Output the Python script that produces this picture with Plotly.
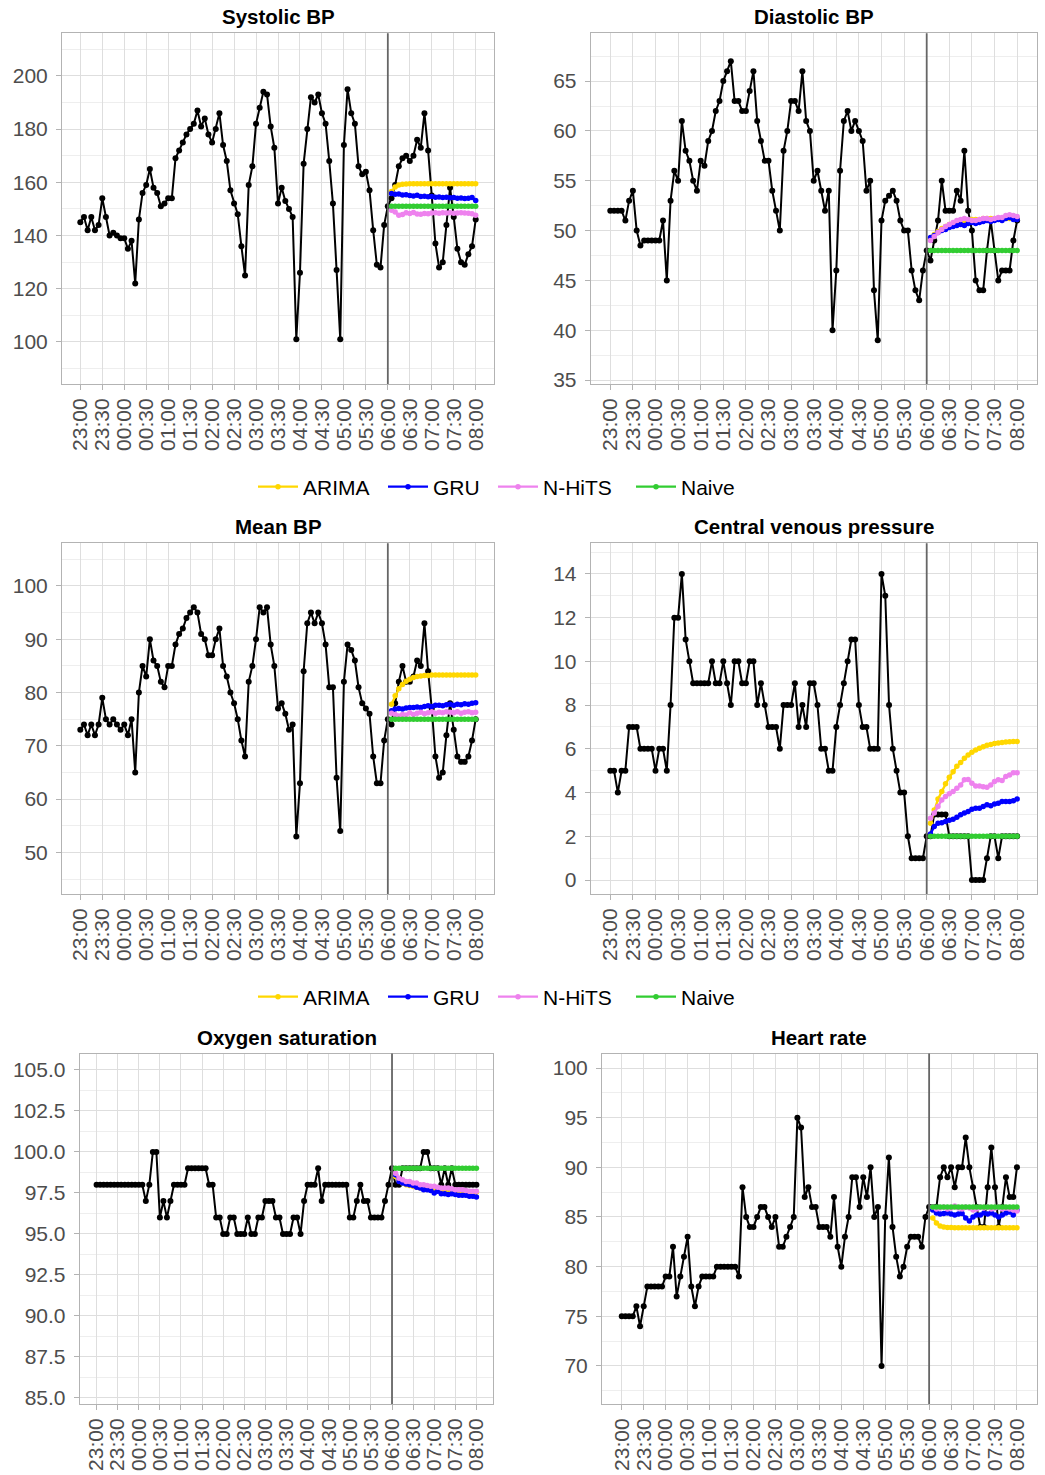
import pandas as pd
import plotly.graph_objects as go

# ---- time grid: 5-minute samples 23:00 -> 08:00; forecasts cover 06:05 -> 08:00 ----
start = pd.Timestamp("2024-03-01 23:00")
obs_time = pd.date_range(start, periods=109, freq="5min")
cut_time = obs_time[84]          # 06:00, forecast origin
fc_time = obs_time[85:]          # 24 forecast steps

# ---- observed vitals (109 samples each) ----
sbp_obs = [145, 147, 142, 147, 142, 144, 154, 147, 140, 141, 140, 139, 139, 135, 138, 122,
           146, 156, 159, 165, 158, 156, 151, 152, 154, 154, 169, 172, 175, 178, 180, 182,
           187, 181, 184, 178, 175, 180, 186, 174, 168, 157, 152, 148, 136, 125, 159, 166,
           182, 188, 194, 193, 181, 173, 152, 158, 153, 150, 147, 101, 126, 167, 180, 192,
           190, 193, 186, 182, 168, 152, 127, 101, 174, 195, 186, 182, 166, 163, 164, 157,
           142, 129, 128, 144, 151,
           154, 159, 166, 169, 170, 168, 170, 176, 173, 186, 172, 155, 137, 128, 130, 144,
           158, 147, 135, 130, 129, 133, 136, 146]
dbp_obs = [52, 52, 52, 52, 51, 53, 54, 50, 48.5, 49, 49, 49, 49, 49, 51, 45, 53, 56, 55, 61,
           58, 57, 55, 54, 57, 56.5, 59, 60, 62, 63, 65, 66, 67, 63, 63, 62, 62, 64, 66, 61,
           59, 57, 57, 54, 52, 50, 58, 60, 63, 63, 62, 66, 61, 60, 55, 56, 54, 52, 54, 40,
           46, 56, 61, 62, 60, 61, 60, 59, 54, 55, 44, 39, 51, 53, 53.5, 54, 53, 51, 50, 50,
           46, 44, 43, 46, 48,
           47, 49, 51, 55, 52, 52, 52, 54, 53, 58, 52, 50, 45, 44, 44, 48, 51, 48, 45, 46,
           46, 46, 49, 51]
map_obs = [73, 74, 72, 74, 72, 74, 79, 75, 74, 75, 74, 73, 74, 72, 75, 65, 80, 85, 83, 90,
           86, 85, 82, 81, 85, 85, 89, 91, 92, 94, 95, 96, 95, 91, 90, 87, 87, 90, 92, 85,
           83, 80, 78, 75, 71, 68, 82, 85, 90, 96, 95, 96, 89, 85, 77, 78, 76, 73, 74, 53,
           63, 84, 93, 95, 93, 95, 93, 89, 81, 81, 64, 54, 82, 89, 88, 86, 81, 78, 77, 76,
           68, 63, 63, 71, 75,
           74, 78, 82, 85, 82, 82, 83, 86, 85, 93, 84, 77, 68, 64, 65, 72, 78, 73, 68, 67,
           67, 68, 71, 75]
cvp_obs = [5, 5, 4, 5, 5, 7, 7, 7, 6, 6, 6, 6, 5, 6, 6, 5, 8, 12, 12, 14, 11, 10, 9, 9, 9,
           9, 9, 10, 9, 9, 10, 9, 8, 10, 10, 9, 9, 10, 10, 8, 9, 8, 7, 7, 7, 6, 8, 8, 8, 9,
           7, 8, 7, 9, 9, 8, 6, 6, 5, 5, 7, 8, 9, 10, 11, 11, 8, 7, 7, 6, 6, 6, 14, 13, 8,
           6, 5, 4, 4, 2, 1, 1, 1, 1, 2,
           2, 3, 3, 3, 3, 2, 2, 2, 2, 2, 2, 0, 0, 0, 0, 1, 2, 2, 1, 2, 2, 2, 2, 2]
spo2_obs = [98, 98, 98, 98, 98, 98, 98, 98, 98, 98, 98, 98, 98, 98, 97, 98, 100, 100, 96, 97,
            96, 97, 98, 98, 98, 98, 99, 99, 99, 99, 99, 99, 98, 98, 96, 96, 95, 95, 96, 96,
            95, 95, 95, 96, 95, 95, 96, 96, 97, 97, 97, 96, 96, 95, 95, 95, 96, 96, 95, 97,
            98, 98, 98, 99, 97, 98, 98, 98, 98, 98, 98, 98, 96, 96, 97, 98, 97, 97, 96, 96,
            96, 96, 97, 98, 99,
            98, 98, 99, 99, 99, 99, 99, 99, 100, 100, 99, 99, 99, 98, 99, 98, 99, 98, 98, 98,
            98, 98, 98, 98]
hr_obs = [75, 75, 75, 75, 76, 74, 76, 78, 78, 78, 78, 78, 79, 79, 82, 77, 79, 81, 83, 78,
          76, 78, 79, 79, 79, 79, 80, 80, 80, 80, 80, 80, 79, 88, 85, 84, 84, 85, 86, 86,
          85, 84, 85, 82, 82, 83, 84, 85, 95, 94, 87, 88, 86, 86, 84, 84, 84, 83, 87, 82,
          80, 83, 85, 89, 89, 86, 89, 87, 90, 85, 86, 70, 85, 91, 84, 81, 79, 80, 82, 83,
          83, 83, 82, 85, 86,
          86, 86, 89, 90, 89, 90, 88, 90, 90, 93, 90, 88, 86, 84, 84, 88, 92, 88, 84, 86,
          89, 87, 87, 90]

# ---- model forecasts (24 steps each) ----
sbp_arima = [156.5, 158.2, 159.0, 159.3, 159.4, 159.5, 159.5, 159.5, 159.5, 159.5, 159.5, 159.5,
             159.5, 159.5, 159.5, 159.5, 159.5, 159.5, 159.5, 159.5, 159.5, 159.5, 159.5, 159.5]
sbp_gru = [155.8, 155.5, 155.6, 155.2, 155.3, 155.0, 154.9, 155.1, 154.7, 154.8, 154.6, 154.7,
           154.4, 154.5, 154.3, 154.4, 154.2, 154.3, 154.0, 154.1, 153.9, 154.0, 154.3, 153.2]
sbp_nhits = [149.5, 148.8, 147.6, 147.9, 148.6, 148.3, 148.7, 148.1, 148.0, 148.3, 148.2, 148.5,
             148.6, 148.4, 148.6, 148.5, 148.6, 148.4, 148.5, 148.6, 148.5, 148.4, 148.2, 147.6]
sbp_naive = [151] * 24

dbp_arima = [49.2, 49.6, 49.9, 50.2, 50.4, 50.6, 50.7, 50.8, 50.9, 51.0, 51.0, 51.1,
             51.1, 51.1, 51.2, 51.2, 51.2, 51.2, 51.2, 51.2, 51.2, 51.2, 51.2, 51.2]
dbp_gru = [49.3, 49.5, 49.8, 50.0, 50.1, 50.3, 50.4, 50.5, 50.6, 50.5, 50.7, 50.8,
           50.7, 50.8, 50.9, 51.0, 50.9, 51.0, 51.1, 51.0, 51.2, 51.3, 51.1, 51.1]
dbp_nhits = [49.0, 49.4, 49.8, 50.1, 50.4, 50.6, 50.8, 51.0, 51.1, 51.2, 51.1, 51.0,
             51.0, 51.1, 51.2, 51.2, 51.1, 51.2, 51.3, 51.3, 51.5, 51.6, 51.5, 51.4]
dbp_naive = [48] * 24

map_arima = [77.8, 79.4, 80.7, 81.5, 82.1, 82.5, 82.8, 83.0, 83.1, 83.2, 83.2, 83.3,
             83.3, 83.3, 83.3, 83.3, 83.3, 83.3, 83.3, 83.3, 83.3, 83.3, 83.3, 83.3]
map_gru = [76.6, 76.9, 77.0, 76.9, 77.1, 77.2, 77.2, 77.3, 77.2, 77.4, 77.5, 77.4,
           77.6, 77.6, 77.5, 77.7, 77.8, 77.6, 77.8, 77.7, 77.9, 77.8, 78.0, 78.1]
map_nhits = [76.1, 75.9, 75.6, 75.9, 75.8, 76.2, 75.9, 76.1, 76.3, 76.0, 76.2, 76.4,
             76.1, 76.3, 76.2, 76.4, 76.3, 76.2, 76.4, 76.1, 76.3, 76.4, 76.2, 76.3]
map_naive = [75] * 24

cvp_arima = [2.6, 3.2, 3.7, 4.05, 4.4, 4.7, 4.95, 5.2, 5.37, 5.57, 5.72, 5.84,
             5.95, 6.03, 6.1, 6.16, 6.2, 6.24, 6.27, 6.29, 6.31, 6.32, 6.33, 6.34]
cvp_gru = [2.1, 2.45, 2.6, 2.62, 2.68, 2.73, 2.78, 2.87, 2.98, 3.06, 3.13, 3.24,
           3.28, 3.28, 3.36, 3.44, 3.4, 3.48, 3.51, 3.59, 3.59, 3.59, 3.63, 3.7]
cvp_nhits = [2.83, 3.06, 3.36, 3.66, 3.82, 3.94, 4.05, 4.2, 4.35, 4.58, 4.6, 4.43,
             4.3, 4.3, 4.27, 4.24, 4.35, 4.5, 4.58, 4.55, 4.73, 4.8, 4.9, 4.9]
cvp_naive = [2] * 24

spo2_arima = [98.5, 98.25, 98.1, 98.0, 97.95, 97.9, 97.85, 97.8, 97.8, 97.75, 97.75, 97.7,
              97.7, 97.65, 97.65, 97.65, 97.6, 97.6, 97.6, 97.6, 97.55, 97.55, 97.55, 97.55]
spo2_gru = [98.6, 98.2, 98.1, 98.05, 98.0, 97.95, 97.85, 97.8, 97.7, 97.7, 97.65, 97.5,
            97.6, 97.45, 97.45, 97.4, 97.45, 97.4, 97.35, 97.35, 97.35, 97.3, 97.3, 97.25]
spo2_nhits = [98.7, 98.4, 98.3, 98.2, 98.2, 98.1, 98.1, 98.0, 98.0, 97.95, 97.9, 97.9,
              97.85, 97.8, 97.8, 97.8, 97.75, 97.7, 97.7, 97.7, 97.65, 97.6, 97.6, 97.6]
spo2_naive = [99] * 24

hr_arima = [84.9, 84.4, 84.1, 84.0, 83.95, 83.93, 83.92, 83.92, 83.92, 83.92, 83.92, 83.92,
            83.92, 83.92, 83.92, 83.92, 83.92, 83.92, 83.92, 83.92, 83.92, 83.92, 83.92, 83.92]
hr_gru = [85.7, 85.4, 85.3, 85.35, 85.4, 85.3, 85.2, 85.3, 85.35, 84.9, 84.6, 85.0,
          85.2, 85.2, 85.4, 85.3, 85.4, 85.2, 85.0, 85.2, 85.4, 85.5, 85.2, 85.7]
hr_nhits = [86.0, 85.8, 85.9, 86.0, 85.8, 85.9, 86.1, 85.9, 85.8, 86.0, 85.9, 85.7,
            85.8, 86.0, 85.9, 86.0, 85.8, 85.9, 86.0, 85.8, 85.9, 85.8, 85.7, 85.6]
hr_naive = [86] * 24

models = ["ARIMA", "GRU", "N-HiTS", "Naive"]
model_colors = {"ARIMA": "#FFD700", "GRU": "#0000FF", "N-HiTS": "#EE82EE", "Naive": "#32CD32"}

# ---- page geometry (pixels) ----
W, H = 1045, 1475
FONT = "Liberation Sans, Arial, Helvetica, sans-serif"
GRID_MAJOR = "#DEDEDE"
GRID_MINOR = "#EEEEEE"
BORDER = "#B3B3B3"

# legend rows sit between the panel rows; one single-entry legend per model
LEGEND_ROWS_Y = [487, 997]
LEGEND_ITEM_X = [258, 388, 498, 636]

panels = [
    dict(title="Systolic BP", obs=sbp_obs,
         fc=[sbp_arima, sbp_gru, sbp_nhits, sbp_naive],
         box=(62, 494, 33.3, 384), pad=25, yrange=(84.2, 216.0), dtick=20, minor=10,
         fmt="d", legend_row=0),
    dict(title="Diastolic BP", obs=dbp_obs,
         fc=[dbp_arima, dbp_gru, dbp_nhits, dbp_naive],
         box=(590.7, 1036.7, 33.3, 384), pad=26, yrange=(34.6, 69.8), dtick=5, minor=2.5,
         fmt="d", legend_row=None),
    dict(title="Mean BP", obs=map_obs,
         fc=[map_arima, map_gru, map_nhits, map_naive],
         box=(62, 494, 543.3, 894), pad=25, yrange=(42.2, 108.0), dtick=10, minor=5,
         fmt="d", legend_row=1),
    dict(title="Central venous pressure", obs=cvp_obs,
         fc=[cvp_arima, cvp_gru, cvp_nhits, cvp_naive],
         box=(590.7, 1036.7, 543.3, 894), pad=26, yrange=(-0.64, 15.4), dtick=2, minor=1,
         fmt="d", legend_row=None),
    dict(title="Oxygen saturation", obs=spo2_obs,
         fc=[spo2_arima, spo2_gru, spo2_nhits, spo2_naive],
         box=(79.7, 493.3, 1053.5, 1404), pad=24, yrange=(84.63, 106.0), dtick=2.5, minor=1.25,
         fmt=".1f", legend_row=None),
    dict(title="Heart rate", obs=hr_obs,
         fc=[hr_arima, hr_gru, hr_nhits, hr_naive],
         box=(602, 1036.7, 1053.5, 1404), pad=27, yrange=(66.17, 101.46), dtick=5, minor=2.5,
         fmt="d", legend_row=None),
]

fig = go.Figure()
layout = dict(
    width=W, height=H,
    margin=dict(l=0, r=0, t=0, b=0, autoexpand=False),
    paper_bgcolor="white", plot_bgcolor="white",
    font=dict(family=FONT, size=21, color="#4D4D4D"),
    showlegend=True,
    annotations=[], shapes=[],
)


def legend_id(row, item):
    n = row * len(models) + item + 1
    return "legend" if n == 1 else f"legend{n}"


for i, p in enumerate(panels, start=1):
    xa = "x" if i == 1 else f"x{i}"
    ya = "y" if i == 1 else f"y{i}"
    xkey = "xaxis" if i == 1 else f"xaxis{i}"
    ykey = "yaxis" if i == 1 else f"yaxis{i}"
    left, right, top, bottom = p["box"]

    # observed series in black
    fig.add_trace(go.Scatter(
        x=obs_time, y=p["obs"], mode="lines+markers", xaxis=xa, yaxis=ya,
        line=dict(color="black", width=2), marker=dict(color="black", size=6),
        showlegend=False, hoverinfo="skip"))

    # forecasts, one colour per model
    for j, (name, vals) in enumerate(zip(models, p["fc"])):
        col = model_colors[name]
        row = p["legend_row"]
        fig.add_trace(go.Scatter(
            x=fc_time, y=vals, mode="lines+markers", name=name, xaxis=xa, yaxis=ya,
            line=dict(color=col, width=2.4), marker=dict(color=col, size=5.5),
            showlegend=row is not None,
            legend=legend_id(row, j) if row is not None else "legend",
            hoverinfo="skip"))

    pad = pd.Timedelta(minutes=p["pad"])
    layout[xkey] = dict(
        domain=[left / W, right / W], anchor=ya, type="date",
        range=[obs_time[0] - pad, obs_time[-1] + pad],
        tick0=obs_time[0], dtick=30 * 60 * 1000, tickformat="%H:%M", tickangle=-90,
        showgrid=True, gridcolor=GRID_MAJOR, gridwidth=1,
        ticks="outside", ticklen=5, tickcolor=BORDER, tickwidth=1,
        tickfont=dict(size=21, color="#4D4D4D", family=FONT),
        showline=True, linecolor=BORDER, linewidth=1, mirror=True,
        zeroline=False, fixedrange=True, automargin=False)
    layout[ykey] = dict(
        domain=[1 - bottom / H, 1 - top / H], anchor=xa,
        range=list(p["yrange"]), tick0=0, dtick=p["dtick"], tickformat=p["fmt"],
        showgrid=True, gridcolor=GRID_MAJOR, gridwidth=1,
        minor=dict(tick0=0, dtick=p["minor"], showgrid=True, gridcolor=GRID_MINOR, gridwidth=1),
        ticks="outside", ticklen=5, tickcolor=BORDER, tickwidth=1, ticklabelstandoff=4,
        tickfont=dict(size=21, color="#4D4D4D", family=FONT),
        showline=True, linecolor=BORDER, linewidth=1, mirror=True,
        zeroline=False, fixedrange=True, automargin=False)

    # forecast origin marker
    layout["shapes"].append(dict(
        type="line", xref=xa, yref="paper", x0=cut_time, x1=cut_time,
        y0=1 - bottom / H, y1=1 - top / H,
        line=dict(color="#666666", width=1.8), layer="above"))

    # panel title
    layout["annotations"].append(dict(
        text=f"<b>{p['title']}</b>", xref="paper", yref="paper",
        x=(left + right) / 2 / W, y=1 - (top - 3) / H, xanchor="center", yanchor="bottom",
        showarrow=False, font=dict(size=20.5, color="black", family=FONT)))

# one legend box per model entry, placed along each legend row
for row, ypx in enumerate(LEGEND_ROWS_Y):
    for j, xpx in enumerate(LEGEND_ITEM_X):
        layout[legend_id(row, j)] = dict(
            orientation="h", x=(xpx - 5) / W, xanchor="left", y=1 - ypx / H, yanchor="middle",
            font=dict(size=21, color="black", family=FONT),
            bgcolor="rgba(0,0,0,0)", itemwidth=40)

fig.update_layout(**layout)
fig.write_html("out.html")
